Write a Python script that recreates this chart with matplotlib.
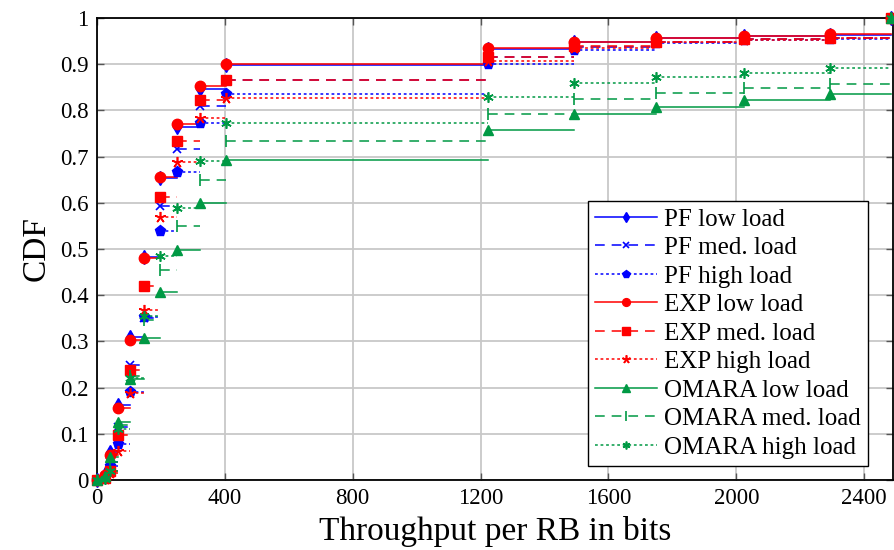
import matplotlib
matplotlib.use("Agg")
import matplotlib.pyplot as plt
import numpy as np

plt.rcParams['font.family'] = ['Liberation Serif', 'DejaVu Serif']
plt.rcParams['lines.scale_dashes'] = False

# Throughput per RB (bits) at which the CDF steps
throughput = [0, 25, 41, 66, 103, 147, 197, 250, 322, 404, 1224, 1491, 1749, 2025, 2292, 2483]

pf_low    = [0, 0.012, 0.060, 0.163, 0.310, 0.482, 0.653, 0.765, 0.846, 0.899, 0.932, 0.948, 0.957, 0.961, 0.964, 1.0]
pf_med    = [0, 0.008, 0.040, 0.115, 0.249, 0.350, 0.593, 0.716, 0.809, 0.866, 0.915, 0.938, 0.948, 0.954, 0.957, 1.0]
pf_high   = [0, 0.005, 0.030, 0.077, 0.190, 0.352, 0.539, 0.667, 0.773, 0.835, 0.900, 0.930, 0.945, 0.953, 0.955, 1.0]
exp_low   = [0, 0.010, 0.055, 0.155, 0.302, 0.481, 0.656, 0.771, 0.853, 0.901, 0.934, 0.949, 0.957, 0.962, 0.965, 1.0]
exp_med   = [0, 0.005, 0.020, 0.098, 0.238, 0.420, 0.613, 0.734, 0.822, 0.866, 0.916, 0.939, 0.949, 0.954, 0.957, 1.0]
exp_high  = [0, 0.003, 0.015, 0.062, 0.189, 0.367, 0.570, 0.689, 0.783, 0.827, 0.907, 0.935, 0.948, 0.952, 0.956, 1.0]
omara_low = [0, 0.008, 0.050, 0.125, 0.218, 0.308, 0.407, 0.497, 0.599, 0.693, 0.757, 0.793, 0.808, 0.822, 0.835, 1.0]
omara_med = [0, 0.005, 0.040, 0.120, 0.226, 0.346, 0.455, 0.549, 0.649, 0.734, 0.793, 0.824, 0.838, 0.848, 0.858, 1.0]
omara_high= [0, 0.003, 0.020, 0.110, 0.220, 0.355, 0.484, 0.588, 0.690, 0.773, 0.828, 0.859, 0.872, 0.882, 0.891, 1.0]

labels = ["PF low load", "PF med. load", "PF high load",
          "EXP low load", "EXP med. load", "EXP high load",
          "OMARA low load", "OMARA med. load", "OMARA high load"]
series = [pf_low, pf_med, pf_high, exp_low, exp_med, exp_high, omara_low, omara_med, omara_high]

x_ticks = [0, 400, 800, 1200, 1600, 2000, 2400]
y_ticks = [0, 0.1, 0.2, 0.3, 0.4, 0.5, 0.6, 0.7, 0.8, 0.9, 1]
y_ticklabels = ["0", "0.1", "0.2", "0.3", "0.4", "0.5", "0.6", "0.7", "0.8", "0.9", "1"]

BLUE = '#0000ff'
RED = '#ff0000'
GREEN = '#009944'
colors = [BLUE] * 3 + [RED] * 3 + [GREEN] * 3
DASHED = (0, (7, 5))
DOTTED = (0, (2, 2))
styles = ['-', DASHED, DOTTED] * 3
markers = ['d', 'x', 'p', 'o', 's', (5, 2, 0), '^', '|', (6, 2, 0)]
msizes = [7, 6, 8, 7.5, 7, 8, 7.5, 9, 7.5]
mews = [1, 1.2, 1, 1, 1, 1.2, 1, 1.2, 1.2]

fig = plt.figure(figsize=(8.94, 5.5), dpi=100)
ax = fig.add_axes([97 / 894, 1 - 480 / 550, 796 / 894, 462 / 550])

handles = []
for ys, lab, c, ls, mk, ms, mw in zip(series, labels, colors, styles, markers, msizes, mews):
    xs_seg, ys_seg = [], []
    for i in range(len(throughput) - 1):
        xs_seg += [throughput[i], throughput[i + 1], np.nan]
        ys_seg += [ys[i], ys[i], np.nan]
    ax.plot(xs_seg, ys_seg, color=c, linestyle=ls, linewidth=1.1, zorder=3)
    ax.plot(throughput, ys, linestyle='none', marker=mk, markersize=ms, color=c,
            markeredgewidth=mw, clip_on=False, zorder=4)
    h, = ax.plot([], [], color=c, linestyle=ls, linewidth=1.1, marker=mk,
                 markersize=ms * 0.75, markeredgewidth=mw)
    handles.append(h)

ax.set_xlim(0, 2490)
ax.set_ylim(0, 1)
ax.set_xticks(x_ticks)
ax.set_yticks(y_ticks)
ax.set_yticklabels(y_ticklabels)
ax.grid(True, color='#c8c8c8', linewidth=1.3, zorder=0)
ax.set_axisbelow(True)
ax.tick_params(direction='in', length=5, width=1, colors='#555555', labelcolor='black',
               labelsize=16.5, top=True, right=True, pad=6)
for s in ax.spines.values():
    s.set_linewidth(1.3)
    s.set_color('black')

ax.set_xlabel("Throughput per RB in bits", fontsize=24, labelpad=5)
ax.set_ylabel("CDF", fontsize=24, labelpad=6)

leg = ax.legend(handles=handles, labels=labels, loc='lower right',
                bbox_to_anchor=(0.969, 0.030), fontsize=18, numpoints=1,
                handlelength=2.45, handletextpad=0.3, labelspacing=0.24,
                borderpad=0.3, borderaxespad=0.0, fancybox=False, framealpha=1,
                edgecolor='black')
leg.get_frame().set_linewidth(1.0)
leg.set_zorder(10)

fig.savefig("out.png", dpi=100)
